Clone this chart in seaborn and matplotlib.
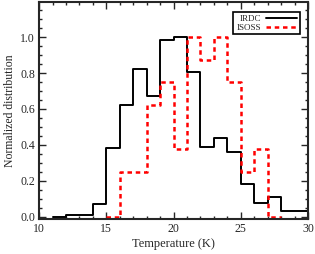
import matplotlib
matplotlib.use("Agg")
import matplotlib.pyplot as plt
from matplotlib.ticker import MultipleLocator
import numpy as np
import pandas as pd
import seaborn as sns

# bin left edges (K) and normalized values
irdc_edges = [11, 12, 13, 14, 15, 16, 17, 18, 19, 20, 21, 22, 23, 24, 25, 26, 27, 28, 29, 30]
irdc_vals = [0.0, 0.01, 0.01, 0.07, 0.38, 0.62, 0.82, 0.67, 0.985, 1.0, 0.805,
             0.39, 0.44, 0.36, 0.18, 0.075, 0.11, 0.03, 0.03, 0.03]

isoss_edges = [15, 16, 17, 18, 19, 20, 21, 22, 23, 24, 25, 26, 27, 28]
isoss_vals = [0.0, 0.25, 0.25, 0.62, 0.75, 0.375, 1.0, 0.875, 1.0, 0.75, 0.25, 0.375, 0.0, 0.0]

sns.set_style("ticks")
plt.rcParams['font.family'] = ['Liberation Serif', 'DejaVu Serif']

fig = plt.figure(figsize=(3.15, 2.54), dpi=100)
ax = fig.add_axes([0.124, 0.138, 0.854, 0.854])

df1 = pd.DataFrame({"T": irdc_edges, "v": irdc_vals})
df2 = pd.DataFrame({"T": isoss_edges, "v": isoss_vals})
sns.lineplot(data=df1, x="T", y="v", ax=ax, color="black", lw=1.4,
             drawstyle="steps-post", label="IRDC")
sns.lineplot(data=df2, x="T", y="v", ax=ax, color="red", lw=1.8,
             drawstyle="steps-post", label="ISOSS", dashes=False)
ax.lines[1].set_linestyle((0, (1.8, 1.5)))

ax.set_xlim(10, 30)
ax.set_ylim(-0.012, 1.195)
ax.xaxis.set_major_locator(MultipleLocator(5))
ax.xaxis.set_minor_locator(MultipleLocator(1))
ax.yaxis.set_major_locator(MultipleLocator(0.2))
ax.yaxis.set_minor_locator(MultipleLocator(0.05))
ax.yaxis.set_major_formatter(matplotlib.ticker.FormatStrFormatter('%.1f'))
ax.tick_params(which="both", direction="in", top=True, right=True, labelsize=8.5,
               width=1.0, pad=3)
ax.tick_params(which="major", length=5)
ax.tick_params(which="minor", length=2.5)
for s in ax.spines.values():
    s.set_linewidth(1.5)

ax.set_xlabel("Temperature (K)", fontsize=9, labelpad=2)
ax.set_ylabel("Normalized distribution", fontsize=8.5, labelpad=3)

leg = ax.legend(loc="upper right", fontsize=6.5, markerfirst=False, fancybox=False,
                framealpha=1, edgecolor="black", handlelength=3.4,
                borderpad=0.3, labelspacing=0.05, handletextpad=0.6,
                bbox_to_anchor=(0.985, 0.975))
leg.get_frame().set_linewidth(1.2)

fig.savefig("out.png", dpi=100)
